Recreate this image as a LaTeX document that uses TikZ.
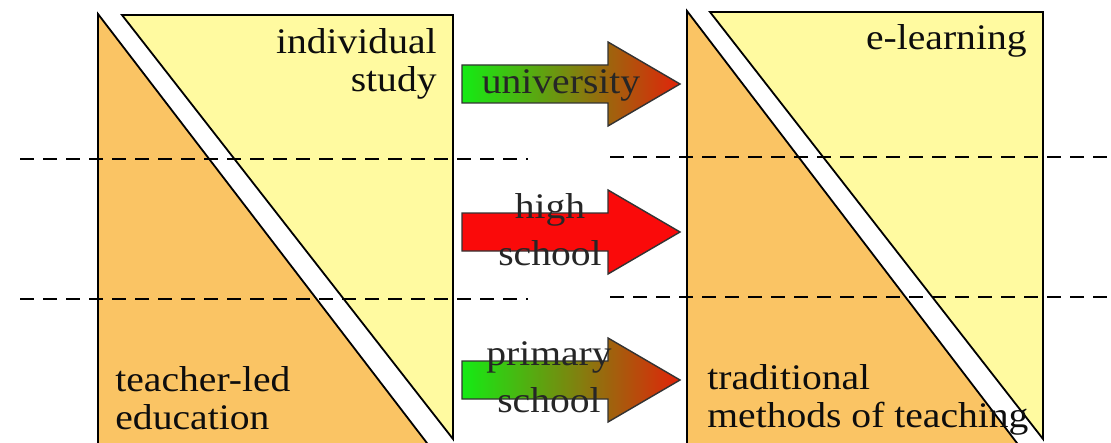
\documentclass[tikz,border=0pt]{standalone}
\usepackage{fontspec}
\setmainfont{Liberation Serif}[FakeStretch=1.1]
\usetikzlibrary{calc}
\definecolor{lowfill}{RGB}{250,196,100}
\definecolor{highfill}{RGB}{255,250,160}
\definecolor{arrowgreen}{RGB}{20,235,20}
\definecolor{arrowred}{RGB}{225,35,10}
\definecolor{stopred}{RGB}{250,10,10}
\tikzset{
 halfbox/.style={draw=black,line width=.9pt,line join=miter},
 lowpart/.style={halfbox,fill=lowfill},
 highpart/.style={halfbox,fill=highfill},
 levelline/.style={draw=black,line width=.9pt,dash pattern=on 7pt off 4.5pt},
 stagearrow/.style={draw=black!80,line width=.7pt,left color=arrowgreen,right color=arrowred},
 redarrow/.style={draw=black!80,line width=.7pt,fill=stopred},
 boxtext/.style={inner sep=0,text=black!95,font=\fontsize{18pt}{19pt}\selectfont},
 arrowtext/.style={inner sep=0,text=black!85,align=center,font=\fontsize{18pt}{23.5pt}\selectfont}
}
\begin{document}
\begin{tikzpicture}[x=.5pt,y=-.5pt]
\path[use as bounding box] (0,0) rectangle (1111,443);
% left box
\draw[lowpart] (98,14) -- (98,447) -- (430,447) -- cycle;
\draw[highpart] (122,15) -- (453,15) -- (453,439) -- cycle;
% right box
\draw[lowpart] (687,11) -- (687,447) -- (1020,447) -- cycle;
\draw[highpart] (710,12) -- (1043,12) -- (1043,439) -- cycle;
% levels
\coordinate (L1a) at (20,159);
\coordinate (L1b) at (528,159);
\coordinate (R1a) at (610,157);
\coordinate (R1b) at (1111,157);
\coordinate (L2a) at (20,299);
\coordinate (L2b) at (528,299);
\coordinate (R2a) at (610,297);
\coordinate (R2b) at (1111,297);
\draw[levelline] (L1a) -- (L1b);
\draw[levelline] (R1a) -- (R1b);
\draw[levelline] (L2a) -- (L2b);
\draw[levelline] (R2a) -- (R2b);
% arrows
\draw[stagearrow] (462,65) -- (608,65) -- (608,42) -- (680,84) -- (608,126) -- (608,103) -- (462,103) -- cycle;
\draw[redarrow] (462,213) -- (608,213) -- (608,190) -- (680,232) -- (608,274) -- (608,251) -- (462,251) -- cycle;
\draw[stagearrow] (462,361) -- (608,361) -- (608,338) -- (680,380) -- (608,422) -- (608,399) -- (462,399) -- cycle;
% texts
\node[boxtext,align=right,anchor=north east] (indiv) at (437,28) {individual\\study};
\node[boxtext,align=left,anchor=north west] (teacher) at (115,366) {teacher-led\\education};
\node[boxtext,align=right,anchor=north east] (elearn) at (1027,24) {e-learning};
\node[boxtext,align=left,anchor=north west] (tradit) at (707,364) {traditional\\methods of teaching};
\node[arrowtext,anchor=base] (univ) at (561,94) {university};
\node[arrowtext,anchor=north] (high) at (550,193) {high\\school};
\node[arrowtext,anchor=north] (primary) at (549,341) {primary\\school};
\end{tikzpicture}
\end{document}
